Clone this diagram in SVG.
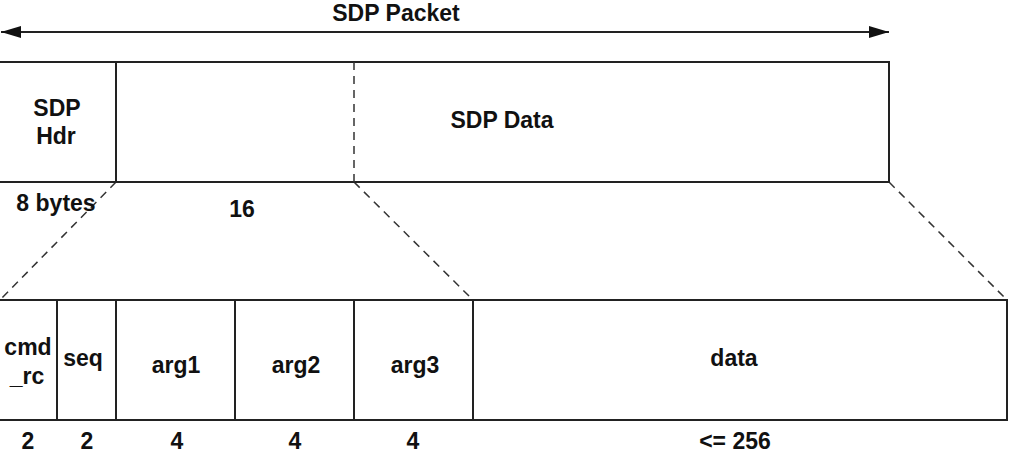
<svg xmlns="http://www.w3.org/2000/svg" width="1011" height="465" viewBox="0 0 1011 465">
<style>
.box{fill:#fff;stroke:#222;stroke-width:2}
.ln{stroke:#222;stroke-width:2;fill:none}
.dash{stroke:#333;stroke-width:1.5;fill:none;stroke-dasharray:8 6}
.t{font-family:"Liberation Sans",Arial,sans-serif;font-weight:bold;font-size:23px;fill:#111;text-anchor:middle}
</style>
<defs>
<marker id="ah" viewBox="0 0 20 12" refX="20" refY="6" markerWidth="20" markerHeight="12" markerUnits="userSpaceOnUse" orient="auto-start-reverse">
<path d="M0,0 L20,6 L0,12 Z" fill="#111"/>
</marker>
</defs>
<rect width="1011" height="465" fill="#fff"/>
<g id="connectors">
<line class="ln" x1="1" y1="32" x2="889" y2="32" marker-start="url(#ah)" marker-end="url(#ah)"/>
<line class="dash" x1="116" y1="182" x2="0" y2="300"/>
<line class="dash" x1="354" y1="182" x2="473" y2="300"/>
<line class="dash" x1="889" y1="182" x2="1007" y2="300"/>
</g>
<text class="t" x="396" y="21">SDP Packet</text>
<g id="sdp-packet">
<rect class="box" x="-1" y="62" width="890" height="120"/>
<line class="ln" x1="116" y1="62" x2="116" y2="182"/>
<line class="dash" x1="354" y1="62" x2="354" y2="182"/>
</g>
<g id="sdp-hdr">
<text class="t" x="57" y="116">SDP</text>
<text class="t" x="56" y="144">Hdr</text>
<text class="t" x="56" y="211">8 bytes</text>
</g>
<g id="sdp-data">
<text class="t" x="502" y="128">SDP Data</text>
<text class="t" x="242" y="217">16</text>
</g>
<g id="fields">
<rect class="box" x="-1" y="300" width="1008" height="120"/>
<line class="ln" x1="57" y1="300" x2="57" y2="420"/>
<line class="ln" x1="116" y1="300" x2="116" y2="420"/>
<line class="ln" x1="235" y1="300" x2="235" y2="420"/>
<line class="ln" x1="354" y1="300" x2="354" y2="420"/>
<line class="ln" x1="473" y1="300" x2="473" y2="420"/>
</g>
<g id="cmd_rc">
<text class="t" x="28" y="355">cmd</text>
<text class="t" x="27" y="384">_rc</text>
<text class="t" x="28" y="449">2</text>
</g>
<g id="seq">
<text class="t" x="83" y="366">seq</text>
<text class="t" x="87" y="449">2</text>
</g>
<g id="arg1">
<text class="t" x="176" y="373">arg1</text>
<text class="t" x="177" y="449">4</text>
</g>
<g id="arg2">
<text class="t" x="296" y="373">arg2</text>
<text class="t" x="295" y="449">4</text>
</g>
<g id="arg3">
<text class="t" x="415" y="373">arg3</text>
<text class="t" x="413" y="449">4</text>
</g>
<g id="data">
<text class="t" x="734" y="366">data</text>
<text class="t" x="735" y="449">&lt;= 256</text>
</g>
</svg>
